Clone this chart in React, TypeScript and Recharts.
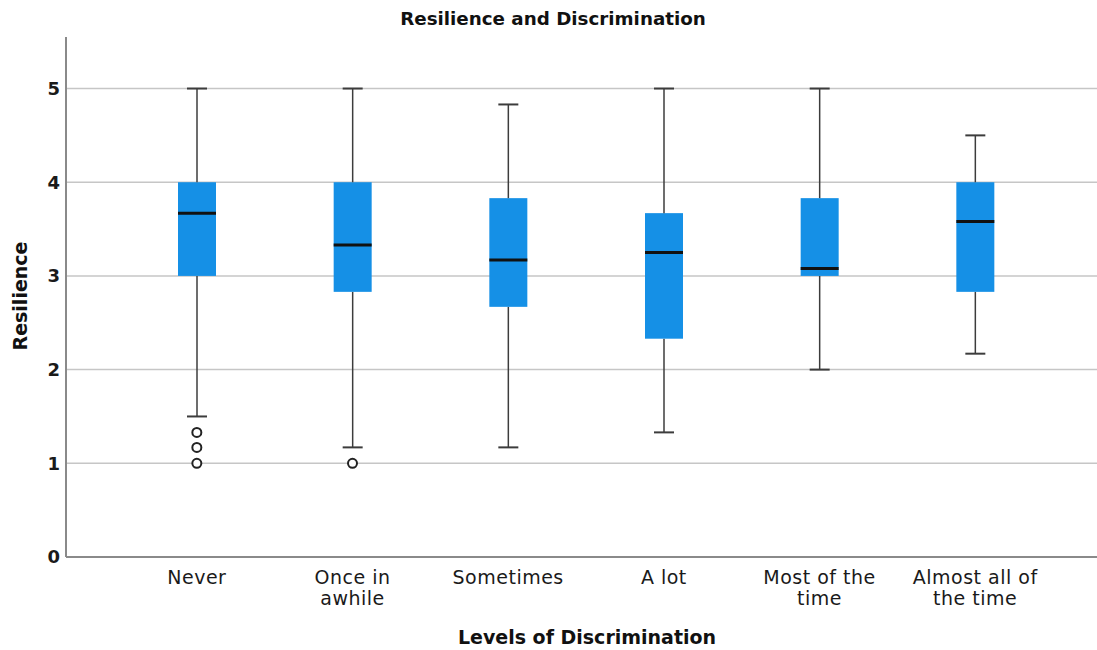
import { ComposedChart, Bar, Scatter, XAxis, YAxis, CartesianGrid } from 'recharts'

// Box plot values
const categories = ['Never', 'Once in awhile', 'Sometimes', 'A lot', 'Most of the time', 'Almost all of the time']
const tickLines = [['Never'], ['Once in', 'awhile'], ['Sometimes'], ['A lot'], ['Most of the', 'time'], ['Almost all of', 'the time']]
const whiskerLow = [1.5, 1.17, 1.17, 1.33, 2.0, 2.17]
const q1 = [3.0, 2.83, 2.67, 2.33, 3.0, 2.83]
const median = [3.67, 3.33, 3.17, 3.25, 3.08, 3.58]
const q3 = [4.0, 4.0, 3.83, 3.67, 3.83, 4.0]
const whiskerHigh = [5, 5, 4.83, 5, 5, 4.5]
const outliers: number[][] = [[1.33, 1.17, 1.0], [1.0], [], [], [], []]
const yTicks = [0, 1, 2, 3, 4, 5]
const gridValues = [1, 2, 3, 4, 5]

const FONT = '"DejaVu Sans", "Open Sans", sans-serif'
const BOX = '#1590E6'
const WHISKER = '#3c3c3c'
const CAP = 20

const data = categories.map((name, i) => ({
    name,
    base: whiskerLow[i],
    lowWhisker: q1[i] - whiskerLow[i],
    lowBox: median[i] - q1[i],
    highBox: q3[i] - median[i],
    highWhisker: whiskerHigh[i] - q3[i],
    o1: outliers[i][0] ?? null,
    o2: outliers[i][1] ?? null,
    o3: outliers[i][2] ?? null,
}))

const Empty = () => <g />

const LowWhisker = ({ x, y, width, height }: any) => {
    const cx = x + width / 2
    return (
        <g>
            <line x1={cx} x2={cx} y1={y} y2={y + height} stroke={WHISKER} strokeWidth={1.5} />
            <line x1={cx - CAP / 2} x2={cx + CAP / 2} y1={y + height} y2={y + height} stroke={WHISKER} strokeWidth={2} />
        </g>
    )
}

const HighWhisker = ({ x, y, width, height }: any) => {
    const cx = x + width / 2
    return (
        <g>
            <line x1={cx} x2={cx} y1={y} y2={y + height} stroke={WHISKER} strokeWidth={1.5} />
            <line x1={cx - CAP / 2} x2={cx + CAP / 2} y1={y} y2={y} stroke={WHISKER} strokeWidth={2} />
        </g>
    )
}

const LowBox = ({ x, y, width, height }: any) => (
    <rect x={x} y={y} width={width} height={height} fill={BOX} />
)

const HighBox = ({ x, y, width, height }: any) => (
    <g>
        <rect x={x} y={y} width={width} height={height} fill={BOX} />
        <line x1={x} x2={x + width} y1={y + height} y2={y + height} stroke="#111" strokeWidth={3} />
    </g>
)

const Outlier = (key: string) => (props: any) => {
    if (props.payload == null || props.payload[key] == null) return <g />
    return <circle cx={props.cx} cy={props.cy} r={4.5} fill="#fff" stroke="#222" strokeWidth={2} />
}

const CategoryTick = ({ x, y, index }: any) => {
    const lines = tickLines[index] || []
    return (
        <text x={x} y={y} textAnchor="middle" fill="#1a1a1a" fontSize={19} fontFamily={FONT} letterSpacing={0.5}>
            {lines.map((l, i) => (
                <tspan key={i} x={x} dy={i === 0 ? 19 : 21}>{l}</tspan>
            ))}
        </text>
    )
}

export default function App() {
    return (
        <div style={{ position: 'absolute', left: 0, top: 0, width: 1097, height: 650, background: '#fff', fontFamily: FONT }}>
            <div style={{ position: 'absolute', left: 0, width: 1106, top: 8, textAlign: 'center', fontSize: 18.3, fontWeight: 'bold', color: '#111' }}>
                Resilience and Discrimination
            </div>
            <div style={{ position: 'absolute', left: 0, width: 1174, top: 626, textAlign: 'center', fontSize: 19, fontWeight: 'bold', color: '#111' }}>
                Levels of Discrimination
            </div>
            <div style={{ position: 'absolute', left: 20, top: 296, transform: 'translate(-50%, -50%) rotate(-90deg)', fontSize: 19, fontWeight: 'bold', color: '#111', whiteSpace: 'nowrap' }}>
                Resilience
            </div>
            <div style={{ position: 'absolute', left: 0, top: 0 }}>
                <ComposedChart width={1097} height={650} data={data} margin={{ top: 37, right: 0, bottom: 33, left: 16 }}>
                    <CartesianGrid vertical={false} horizontalValues={gridValues} stroke="#c6c6c6" strokeWidth={1.5} />
                    <XAxis
                        dataKey="name"
                        height={60}
                        padding={{ left: 53, right: 44 }}
                        tickLine={false}
                        axisLine={{ stroke: '#8a8a8a', strokeWidth: 2 }}
                        tick={<CategoryTick />}
                        interval={0}
                    />
                    <YAxis
                        type="number"
                        width={50}
                        domain={[0, 5.55]}
                        ticks={yTicks}
                        tickLine={false}
                        tickSize={4}
                        tickMargin={2}
                        axisLine={{ stroke: '#8a8a8a', strokeWidth: 2 }}
                        tick={{ fontSize: 18, fontWeight: 'bold', fill: '#1a1a1a', fontFamily: FONT }}
                    />
                    <Bar dataKey="base" stackId="box" barSize={38} shape={<Empty />} isAnimationActive={false} />
                    <Bar dataKey="lowWhisker" stackId="box" barSize={38} shape={<LowWhisker />} isAnimationActive={false} />
                    <Bar dataKey="lowBox" stackId="box" barSize={38} shape={<LowBox />} isAnimationActive={false} />
                    <Bar dataKey="highBox" stackId="box" barSize={38} shape={<HighBox />} isAnimationActive={false} />
                    <Bar dataKey="highWhisker" stackId="box" barSize={38} shape={<HighWhisker />} isAnimationActive={false} />
                    <Scatter dataKey="o1" shape={Outlier('o1')} isAnimationActive={false} />
                    <Scatter dataKey="o2" shape={Outlier('o2')} isAnimationActive={false} />
                    <Scatter dataKey="o3" shape={Outlier('o3')} isAnimationActive={false} />
                </ComposedChart>
            </div>
        </div>
    )
}
